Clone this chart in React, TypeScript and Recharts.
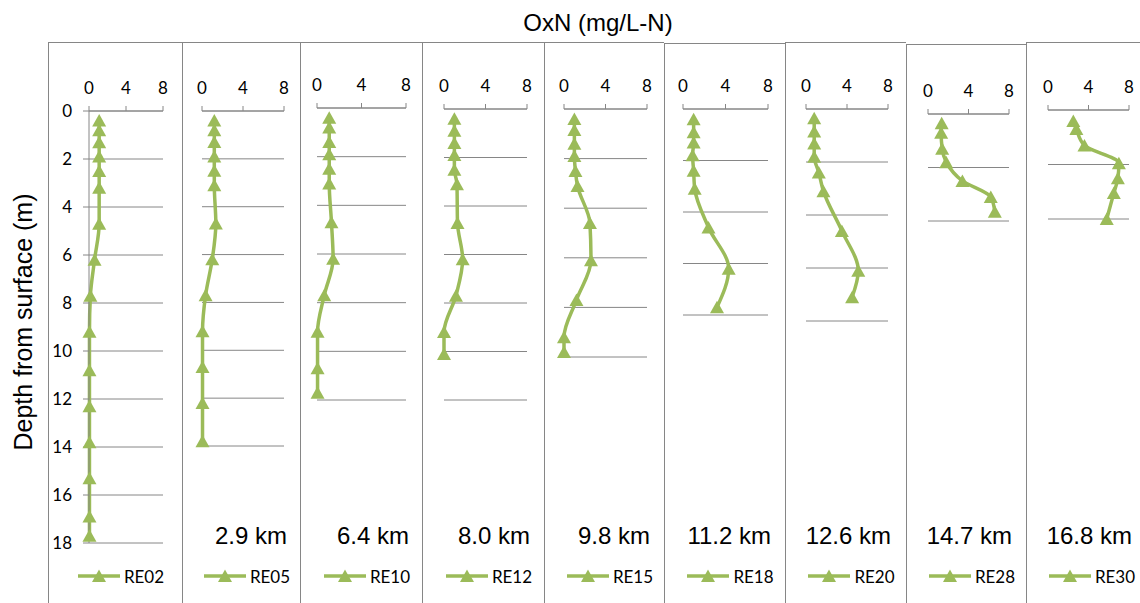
import { CartesianGrid, Legend, Line, LineChart, XAxis, YAxis } from "recharts";

const sites = ["RE02", "RE05", "RE10", "RE12", "RE15", "RE18", "RE20", "RE28", "RE30"];
const distances = ["", "2.9 km", "6.4 km", "8.0 km", "9.8 km", "11.2 km", "12.6 km", "14.7 km", "16.8 km"];
const depthMax = [18, 14, 12, 12, 10, 8, 8, 4, 4];
const oxnTicks = [0, 4, 8];

// depth below surface (m) and OxN (mg/L-N) per well
const re02Depth = [0.4, 0.8, 1.3, 1.9, 2.5, 3.2, 4.7, 6.2, 7.7, 9.2, 10.8, 12.3, 13.8, 15.3, 16.9, 17.7];
const re02OxN = [1.1, 1.1, 1.1, 1.1, 1.1, 1.1, 1.1, 0.6, 0.15, 0.05, 0.05, 0.05, 0.05, 0.05, 0.05, 0.05];
const re05Depth = [0.4, 0.8, 1.3, 1.9, 2.5, 3.1, 4.7, 6.2, 7.7, 9.2, 10.7, 12.2, 13.8];
const re05OxN = [1.2, 1.2, 1.2, 1.2, 1.2, 1.2, 1.35, 1.0, 0.35, 0.05, 0.05, 0.05, 0.05];
const re10Depth = [0.4, 0.8, 1.4, 1.9, 2.5, 3.1, 4.7, 6.2, 7.7, 9.2, 10.7, 11.7];
const re10OxN = [1.1, 1.1, 1.1, 1.1, 1.1, 1.1, 1.3, 1.45, 0.65, 0.05, 0.05, 0.05];
const re12Depth = [0.4, 0.9, 1.4, 1.9, 2.5, 3.1, 4.7, 6.2, 7.7, 9.2, 10.1];
const re12OxN = [1.0, 1.0, 1.0, 1.0, 1.0, 1.25, 1.3, 1.8, 1.15, 0.0, 0.0];
const re15Depth = [0.4, 0.85, 1.4, 1.9, 2.5, 3.1, 4.6, 6.1, 7.7, 9.2, 9.8];
const re15OxN = [1.0, 1.0, 1.0, 1.0, 1.1, 1.3, 2.5, 2.6, 1.2, 0.0, 0.0];
const re18Depth = [0.4, 0.9, 1.3, 1.8, 2.4, 3.1, 4.6, 6.2, 7.7];
const re18OxN = [1.0, 1.0, 1.0, 0.9, 1.0, 1.1, 2.4, 4.3, 3.2];
const re20Depth = [0.35, 0.85, 1.3, 1.8, 2.4, 3.1, 4.6, 6.1, 7.1];
const re20OxN = [0.8, 0.8, 0.8, 0.8, 1.25, 1.7, 3.5, 5.1, 4.5];
const re28Depth = [0.35, 0.7, 1.3, 1.8, 2.5, 3.1, 3.65];
const re28OxN = [1.35, 1.3, 1.4, 1.8, 3.4, 6.2, 6.6];
const re30Depth = [0.4, 0.7, 1.3, 1.95, 2.5, 3.05, 4.0];
const re30OxN = [2.5, 2.8, 3.6, 7.0, 6.9, 6.5, 5.8];

const depths = [re02Depth, re05Depth, re10Depth, re12Depth, re15Depth, re18Depth, re20Depth, re28Depth, re30Depth];
const values = [re02OxN, re05OxN, re10OxN, re12OxN, re15OxN, re18OxN, re20OxN, re28OxN, re30OxN];

// panel geometry (px on the page)
const panels = [
  { left: 48, top: 42, x0: 89, x8: 163, y0: 111, yEnd: 543 },
  { left: 182, top: 42, x0: 202, x8: 284, y0: 111, yEnd: 446 },
  { left: 300, top: 42, x0: 317, x8: 406, y0: 108, yEnd: 400 },
  { left: 422, top: 42, x0: 444, x8: 527, y0: 109, yEnd: 400 },
  { left: 544, top: 42, x0: 564, x8: 647, y0: 109, yEnd: 357 },
  { left: 664, top: 43, x0: 683, x8: 768, y0: 109, yEnd: 315 },
  { left: 785, top: 42, x0: 806, x8: 888, y0: 109, yEnd: 321 },
  { left: 906, top: 44, x0: 928, x8: 1009, y0: 114, yEnd: 221 },
  { left: 1026, top: 42, x0: 1048, x8: 1129, y0: 110, yEnd: 219 },
];

const GREEN = "#9BBB59";
const GRAY = "#868686";
const tickStyle = { fill: "#000", fontSize: 17, fontFamily: "Lato" };

const Triangle = (props: any) => {
  const { cx, cy, index } = props;
  if (cx == null || cy == null) return <g key={`t${index}`} />;
  return (
    <path
      key={`t${index}`}
      d={`M${cx},${cy - 6.5}L${cx + 7},${cy + 6}L${cx - 7},${cy + 6}Z`}
      fill={GREEN}
    />
  );
};

const PanelLegend = ({ name, km, width, kmRight }: { name: string; km: string; width: number; kmRight: number }) => (
  <div style={{ position: "relative", width, height: 70 }}>
    {km && (
      <div
        style={{
          position: "absolute",
          right: kmRight,
          top: 6,
          font: '24px "Liberation Sans", Arial, sans-serif',
          lineHeight: "24px",
          whiteSpace: "nowrap",
          color: "#000",
        }}
      >
        {km}
      </div>
    )}
    <div
      style={{
        position: "absolute",
        left: 6,
        width,
        top: 48,
        height: 20,
        display: "flex",
        justifyContent: "center",
        alignItems: "center",
      }}
    >
      <svg width={42} height={16} style={{ display: "block" }}>
        <line x1={0} y1={8} x2={42} y2={8} stroke={GREEN} strokeWidth={3.5} />
        <path d="M21,1.5L28,14L14,14Z" fill={GREEN} />
      </svg>
      <span style={{ marginLeft: 4, font: "17px Lato", color: "#000" }}>{name}</span>
    </div>
  </div>
);

const Panel = ({ i }: { i: number }) => {
  const p = panels[i];
  const right = i < panels.length - 1 ? panels[i + 1].left : 1146;
  const w = right - p.left;
  const h = 603 - p.top;
  const first = i === 0;
  const yw = first ? 30 : 0;
  const data = depths[i].map((d, k) => ({ depth: d, oxn: values[i][k] }));
  const yTicks = Array.from({ length: depthMax[i] / 2 + 1 }, (_, k) => k * 2);

  return (
    <>
      <div
        style={{
          position: "absolute",
          left: p.left,
          top: p.top,
          width: w,
          height: h + 10,
          borderLeft: `1px solid ${GRAY}`,
          borderTop: `1px solid ${GRAY}`,
          boxSizing: "border-box",
        }}
      />
      <div style={{ position: "absolute", left: p.left, top: p.top }}>
        <LineChart
          width={w}
          height={h}
          data={data}
          layout="vertical"
          margin={{
            top: p.y0 - p.top - 30,
            left: p.x0 - p.left - yw,
            right: right - p.x8,
            bottom: h - (p.yEnd - p.top),
          }}
        >
          <CartesianGrid horizontal vertical={false} stroke={GRAY} />
          <XAxis
            type="number"
            orientation="top"
            domain={[0, 8]}
            ticks={oxnTicks}
            interval={0}
            height={30}
            stroke={GRAY}
            tickSize={5}
            tickMargin={12}
            tick={tickStyle}
          />
          <YAxis
            type="number"
            dataKey="depth"
            domain={[0, depthMax[i]]}
            ticks={yTicks}
            interval={0}
            hide={!first}
            width={yw}
            stroke={GRAY}
            tickSize={6}
            tickMargin={11}
            tick={tickStyle}
          />
          <Legend
            layout="horizontal"
            verticalAlign="middle"
            align="center"
            wrapperStyle={{ top: 518 - p.top, left: 0, width: w, height: 70 }}
            content={(lp: any) => (
              <PanelLegend
                name={lp?.payload?.[0]?.value ?? sites[i]}
                km={distances[i]}
                width={w}
                kmRight={right - (p.x8 + 3)}
              />
            )}
          />
          <Line
            dataKey="oxn"
            name={sites[i]}
            type="monotone"
            stroke={GREEN}
            strokeWidth={3.5}
            dot={Triangle}
            activeDot={false}
            isAnimationActive={false}
          />
        </LineChart>
      </div>
    </>
  );
};

export default function App() {
  return (
    <div
      style={{
        position: "absolute",
        left: 0,
        top: 0,
        width: 1140,
        height: 603,
        overflow: "hidden",
        background: "#fff",
      }}
    >
      <div
        style={{
          position: "absolute",
          left: 598 - 150,
          top: 24 - 15,
          width: 300,
          height: 30,
          lineHeight: "30px",
          textAlign: "center",
          font: '24px "Liberation Sans", Arial, sans-serif',
          color: "#000",
        }}
      >
        OxN (mg/L-N)
      </div>
      <div
        style={{
          position: "absolute",
          left: 24 - 160,
          top: 322 - 15,
          width: 320,
          height: 30,
          lineHeight: "30px",
          textAlign: "center",
          font: '25px "Liberation Sans", Arial, sans-serif',
          color: "#000",
          transform: "rotate(-90deg)",
          whiteSpace: "nowrap",
        }}
      >
        Depth from surface (m)
      </div>
      {panels.map((_, i) => (
        <Panel key={sites[i]} i={i} />
      ))}
    </div>
  );
}
